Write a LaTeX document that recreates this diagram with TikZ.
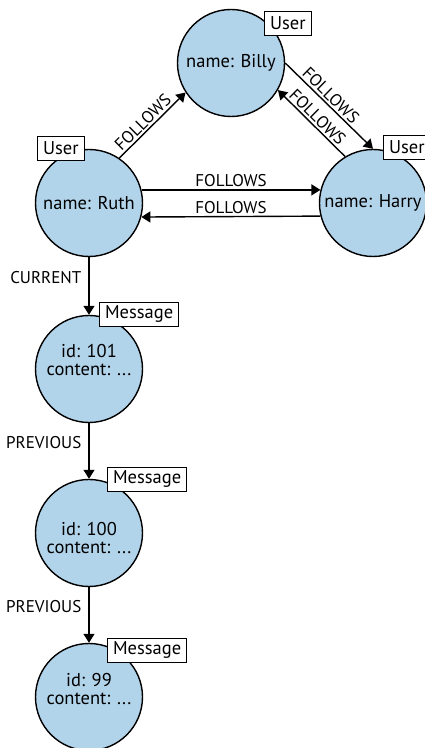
\documentclass[tikz,border=0pt]{standalone}
\usepackage{fontspec}
\setmainfont{PT Sans}
\usetikzlibrary{arrows.meta}
\definecolor{nodeblue}{RGB}{178,212,235}
\tikzset{%
    gnode/.style={circle, draw, line width=1.4pt, fill=nodeblue,
        minimum size=107pt, inner sep=0pt, align=center,
        font=\fontsize{18.5}{18}\selectfont},
    msgtext/.style={align=center, inner sep=0pt,
        font=\fontsize{18.5}{18}\selectfont},
    tag/.style={draw, line width=1.1pt, fill=white, anchor=south west,
        inner xsep=5.5pt, inner ysep=0pt, minimum height=24pt,
        font=\fontsize{18.5}{18}\selectfont},
    rel/.style={line width=1.4pt, -{Triangle[length=9pt,width=11pt]}},
    rlabel/.style={font=\fontsize{17}{18}\selectfont, inner sep=2pt}
}

\begin{document}
\begin{tikzpicture}[x=1pt, y=1pt]
\useasboundingbox (0,0) rectangle (424,748);
% users
\node[gnode] (billy) at (231,685) {name: Billy};
\node[gnode] (ruth) at (89,545) {name: Ruth};
\node[gnode] (harry) at (373,545) {name: Harry};
% messages
\node[gnode] (m101) at (89,379) {};
\node[gnode] (m100) at (89,215) {};
\node[gnode] (m99) at (89,51) {};
\node[msgtext] (m101text) at ([yshift=9pt]m101.center) {id: 101\\content: ...};
\node[msgtext] (m100text) at ([yshift=-5pt]m100.center) {id: 100\\content: ...};
\node[msgtext] (m99text) at ([yshift=8pt]m99.center) {id: 99\\content: ...};
% labels
\node[tag] (billytag) at (264,712) {User};
\node[tag] (ruthtag) at (37,587) {User};
\node[tag] (harrytag) at (383,588) {User};
\node[tag] (m101tag) at (99,421) {Message};
\node[tag] (m100tag) at (107,256) {Message};
\node[tag] (m99tag) at (107,85) {Message};
% relationships
\draw[rel] (ruth.56) -- node[rlabel, sloped, above, pos=0.45] {FOLLOWS} (billy.213);
\draw[rel] (billy.east) -- node[rlabel, sloped, above, pos=0.45] {FOLLOWS} (harry.north);
\draw[rel] (harry.121) -- node[rlabel, sloped, above] {FOLLOWS} (billy.-30);
\draw[rel] (ruth.14) -- node[rlabel, above] {FOLLOWS} (harry.166);
\draw[rel] (harry.194) -- node[rlabel, above] {FOLLOWS} (ruth.-15);
\draw[rel] (ruth.south) -- node[rlabel, left=5pt, pos=0.35] {CURRENT} (m101.north);
\draw[rel] (m101.south) -- node[rlabel, left=5pt, pos=0.35] {PREVIOUS} (m100.north);
\draw[rel] (m100.south) -- node[rlabel, left=5pt, pos=0.35] {PREVIOUS} (m99.north);
\end{tikzpicture}
\end{document}
